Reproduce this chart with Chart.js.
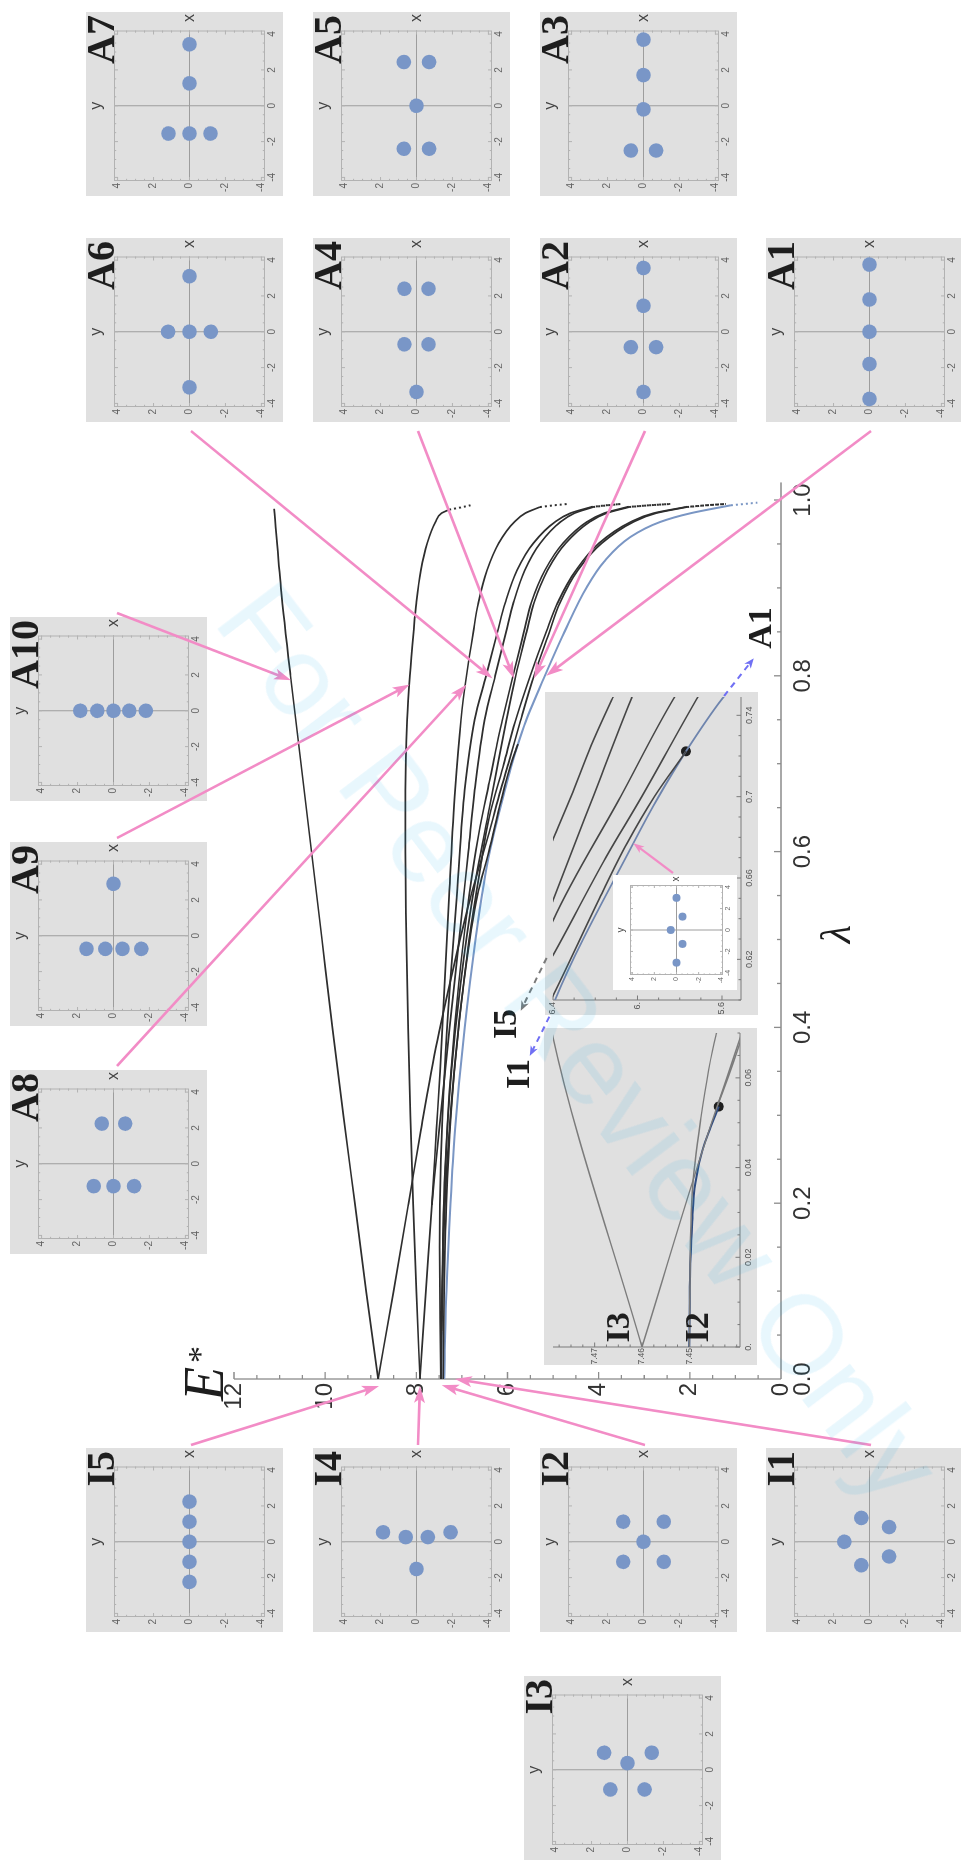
<!DOCTYPE html>
<html>
<head>
<meta charset="utf-8">
<title>Energy branches E* versus λ</title>
<script src="https://cdn.jsdelivr.net/npm/chart.js@4.4.1/dist/chart.umd.min.js"></script>
<style>
  html, body { margin: 0; padding: 0; background: #ffffff; }
  body { width: 961px; height: 1861px; position: relative; overflow: hidden; }
  /* the figure is laid out landscape and turned a quarter turn to portrait */
  #figure { position: absolute; left: 0; top: 0; width: 1861px; height: 961px;
            transform-origin: 0 0; transform: translate(0, 1861px) rotate(-90deg); }
  #figure canvas { position: absolute; }
  #stamp { position: absolute; left: 580px; top: 1042px; white-space: nowrap;
           font: 114px "Liberation Sans", Arial, sans-serif; color: rgba(0, 170, 235, 0.09);
           transform: translate(-50%, -50%) rotate(52.8deg); pointer-events: none; z-index: 50; }
</style>
</head>
<body>
<div id="figure"></div>
<div id="stamp">For Peer Review Only</div>
<script>
const SANS = '"Liberation Sans", Arial, sans-serif';
const SERIF = '"Liberation Serif", "Times New Roman", serif';

// ---------- tick labels ----------
const lambdaTicks = ['0.0', '0.2', '0.4', '0.6', '0.8', '1.0'];
const energyTicks = ['0', '2', '4', '6', '8', '10', '12'];
const upperLamTicks = ['0.62', '0.66', '0.7', '0.74'];
const upperEnTicks = ['5.6', '6.', '6.4'];
const lowerLamTicks = ['0.', '0.02', '0.04', '0.06'];
const lowerEnTicks = ['7.45', '7.46', '7.47'];
const panelTicks = ['-4', '-2', '0', '2', '4'];

// ---------- branches E*(λ) ----------
const lamA10 = [0, 0.1, 0.2, 0.3, 0.4, 0.5, 0.6, 0.7, 0.8, 0.9, 0.99];
const enA10  = [8.84, 9.1, 9.35, 9.6, 9.84, 10.07, 10.3, 10.53, 10.76, 10.97, 11.12];

const lamA9 = [0, 0.1, 0.2, 0.3, 0.4, 0.5, 0.6, 0.67, 0.75, 0.8, 0.85, 0.883, 0.92, 0.951, 0.975, 0.985, 0.989];
const enA9  = [7.92, 8.0, 8.07, 8.13, 8.18, 8.22, 8.24, 8.24, 8.2, 8.14, 8.06, 8.0, 7.9, 7.76, 7.58, 7.45, 7.28];
const lamA9tail = [0.989, 0.9915, 0.994];
const enA9tail  = [7.28, 7.03, 6.81];

const lamA8 = [0, 0.1, 0.198, 0.283, 0.35, 0.45, 0.55, 0.67, 0.75, 0.8, 0.85, 0.883, 0.92, 0.951, 0.975, 0.985, 0.992];
const enA8  = [7.92, 7.79, 7.66, 7.56, 7.48, 7.38, 7.28, 7.15, 7.02, 6.9, 6.75, 6.64, 6.45, 6.19, 5.85, 5.61, 5.29];
const lamA8tail = [0.992, 0.994, 0.9955];
const enA8tail  = [5.29, 4.98, 4.68];

const lamA7 = [0, 0.07, 0.15, 0.25, 0.35, 0.45, 0.55, 0.67, 0.75, 0.8, 0.85, 0.883, 0.92, 0.951, 0.975, 0.985, 0.992];
const enA7  = [7.46, 7.479, 7.49, 7.46, 7.38, 7.26, 7.11, 6.94, 6.72, 6.47, 6.22, 6.05, 5.79, 5.43, 4.96, 4.62, 4.17];
const lamA7tail = [0.992, 0.994, 0.9955];
const enA7tail  = [4.17, 3.84, 3.51];

const lamA6 = [0.198, 0.283, 0.4, 0.5, 0.6, 0.67, 0.75, 0.8, 0.85, 0.883, 0.92, 0.951, 0.975, 0.985, 0.992];
const enA6  = [7.66, 7.5, 7.27, 7.06, 6.86, 6.72, 6.5, 6.27, 6.03, 5.87, 5.62, 5.28, 4.84, 4.53, 4.12];
const lamA6tail = [0.992, 0.994, 0.9955];
const enA6tail  = [4.12, 3.8, 3.51];

const lamA5 = [0, 0.054, 0.15, 0.25, 0.35, 0.45, 0.55, 0.62, 0.679, 0.7, 0.725, 0.748, 0.8, 0.85, 0.883, 0.92, 0.951, 0.975, 0.985, 0.992];
const enA5  = [7.46, 7.444, 7.41, 7.35, 7.24, 7.07, 6.84, 6.63, 6.4, 6.315, 6.22, 6.12, 5.88, 5.64, 5.48, 5.18, 4.78, 4.26, 3.88, 3.38];
const lamA5tail = [0.992, 0.994, 0.9955];
const enA5tail  = [3.38, 2.9, 2.43];

const lamA4 = [0, 0.0345, 0.05, 0.0694, 0.15, 0.25, 0.35, 0.45, 0.55, 0.649, 0.7, 0.748, 0.8, 0.85, 0.883, 0.92, 0.951, 0.975, 0.985, 0.992];
const enA4  = [7.45, 7.4494, 7.4477, 7.4444, 7.42, 7.36, 7.23, 7.03, 6.76, 6.4, 6.21, 6.03, 5.82, 5.58, 5.42, 5.12, 4.72, 4.2, 3.83, 3.33];
const lamA4tail = [0.992, 0.994, 0.9955];
const enA4tail  = [3.33, 2.88, 2.43];

const lamA3 = [0, 0.1, 0.2, 0.3, 0.4, 0.5, 0.58, 0.639, 0.7, 0.748, 0.8, 0.85, 0.883, 0.92, 0.951, 0.975, 0.985, 0.992];
const enA3  = [7.41, 7.39, 7.34, 7.24, 7.07, 6.84, 6.6, 6.4, 6.08, 5.83, 5.5, 5.15, 4.9, 4.5, 3.99, 3.3, 2.8, 2.1];
const lamA3tail = [0.992, 0.994, 0.9955];
const enA3tail  = [2.1, 1.65, 1.21];

const lamA2 = [0, 0.1, 0.2, 0.283, 0.385, 0.485, 0.55, 0.622, 0.67, 0.7, 0.748, 0.8, 0.85, 0.883, 0.92, 0.951, 0.975, 0.985, 0.992];
const enA2  = [8.84, 8.5, 8.17, 7.9, 7.54, 7.11, 6.8, 6.4, 6.15, 5.98, 5.72, 5.42, 5.08, 4.85, 4.46, 3.93, 3.24, 2.74, 2.06];
const lamA2tail = [0.992, 0.994, 0.9955];
const enA2tail  = [2.06, 1.63, 1.21];

// branch that leaves the I2/I3 crossing and merges into A1
const lamMerge = [0.054, 0.15, 0.25, 0.35, 0.45, 0.55, 0.6, 0.65, 0.677, 0.7, 0.7223];
const enMerge  = [7.444, 7.408, 7.32, 7.17, 6.96, 6.66, 6.41, 6.18, 6.05, 5.92, 5.77];

const lamA1 = [0, 0.1, 0.2, 0.283, 0.4, 0.5, 0.6, 0.677, 0.7, 0.7223, 0.748, 0.8, 0.85, 0.901, 0.93, 0.958, 0.975, 0.985, 0.994];
const enA1  = [7.39, 7.34, 7.25, 7.15, 6.94, 6.7, 6.39, 6.02, 5.9, 5.77, 5.6, 5.18, 4.75, 4.26, 3.88, 3.3, 2.65, 1.98, 1.1];
const lamA1tail = [0.994, 0.9955, 0.997];
const enA1tail  = [1.1, 0.8, 0.52];

// short I2 branch ending on the I3 line
const lamI2 = [0, 0.0134, 0.0207, 0.028, 0.0367, 0.044, 0.049, 0.0536];
const enI2  = [7.45, 7.4499, 7.4497, 7.4494, 7.4487, 7.4472, 7.4455, 7.4438];

// bifurcation points
const upperDotLam = [0.7223], upperDotEn = [5.77];
const lowerDotLam = [0.0536], lowerDotEn = [7.4438];

// guide arrows in the upper zoom (λ, E)
const guideLamA1 = [0.7495, 0.768], guideEnA1 = [5.59, 5.45];
const guideLamI5 = [0.6207, 0.5947], guideEnI5 = [6.43, 6.553];
const guideLamI1 = [0.5918, 0.5725], guideEnI1 = [6.417, 6.51];

// configurations (x, y) of each state
const dotsA1X = [3.75, 1.8, 0, -1.8, -3.75],     dotsA1Y = [0, 0, 0, 0, 0];
const dotsA2X = [3.56, 1.45, -0.86, -0.86, -3.36], dotsA2Y = [0, 0, 0.7, -0.7, 0];
const dotsA3X = [3.69, 1.71, -0.2, -2.5, -2.5],  dotsA3Y = [0, 0, 0, 0.7, -0.7];
const dotsA4X = [2.4, 2.4, -0.7, -0.7, -3.36],   dotsA4Y = [0.67, -0.67, 0.67, -0.67, 0];
const dotsA5X = [2.44, 2.44, 0, -2.4, -2.4],     dotsA5Y = [0.7, -0.7, 0, 0.7, -0.7];
const dotsA6X = [3.1, 0, 0, 0, -3.1],            dotsA6Y = [0, 1.19, 0, -1.19, 0];
const dotsA7X = [3.43, 1.25, -1.55, -1.55, -1.55], dotsA7Y = [0, 0, 1.17, 0, -1.17];
const dotsA8X = [2.24, 2.24, -1.25, -1.25, -1.25], dotsA8Y = [0.65, -0.65, 1.1, 0, -1.15];
const dotsA9X = [2.9, -0.73, -0.73, -0.73, -0.73], dotsA9Y = [0, 1.5, 0.45, -0.5, -1.55];
const dotsA10X = [0, 0, 0, 0, 0],                dotsA10Y = [1.85, 0.9, 0, -0.88, -1.8];
const dotsI1X = [1.33, 0.82, 0, -0.82, -1.31],   dotsI1Y = [0.45, -1.09, 1.4, -1.09, 0.45];
const dotsI2X = [1.12, 1.12, 0, -1.12, -1.12],   dotsI2Y = [1.13, -1.13, 0, 1.13, -1.13];
const dotsI3X = [0.95, 0.95, 0.37, -1.1, -1.1],  dotsI3Y = [1.3, -1.35, 0, 0.95, -0.95];
const dotsI4X = [0.53, 0.26, 0.26, 0.53, -1.52], dotsI4Y = [1.86, 0.6, -0.63, -1.9, 0];
const dotsI5X = [2.24, 1.12, 0, -1.12, -2.24],   dotsI5Y = [0, 0, 0, 0, 0];
const dotsZoomX = [3.0, 1.25, 0, -1.3, -3.05],   dotsZoomY = [0, -0.55, 0.52, -0.55, 0];

// where the pink pointers land on the branches (λ, E)
const pointerNames = ['A10', 'A9', 'A8', 'A6', 'A4', 'A2', 'A1', 'I5', 'I4', 'I2', 'I1'];
const pointerLam = [0.795, 0.79, 0.79, 0.797, 0.797, 0.797, 0.80, -0.008, -0.008, -0.007, 0.0];
const pointerEn  = [10.75, 8.15, 6.9, 6.33, 5.86, 5.42, 5.15, 8.82, 7.92, 7.44, 7.15];

// ---------- helpers ----------
const fig = document.getElementById('figure');
const ink = '#2e2e2e', blueInk = '#7a96c4', pink = '#f28cc6', dotColor = 'rgb(121,150,199)';

function addCanvas(left, top, w, h, z) {
  const c = document.createElement('canvas');
  c.width = w; c.height = h;
  Object.assign(c.style, { left: left + 'px', top: top + 'px', width: w + 'px', height: h + 'px', zIndex: z });
  fig.appendChild(c);
  return c;
}
function pts(lam, en) { return lam.map((l, i) => ({ x: l, y: en[i] })); }
function line(lam, en, color, width, extra) {
  return Object.assign({ data: pts(lam, en), showLine: true, pointRadius: 0, borderColor: color,
    borderWidth: width, cubicInterpolationMode: 'monotone', fill: false }, extra || {});
}
function dotted(lam, en, color) {
  return line(lam, en, color, 2, { cubicInterpolationMode: 'default', tension: 0, borderDash: [2, 3] });
}
function marker(lam, en, r) {
  return { data: pts(lam, en), showLine: false, pointRadius: r, pointBackgroundColor: '#1f1f1f', pointBorderWidth: 0 };
}
function fixedTicks(labels) { return s => { s.ticks = labels.map(t => ({ value: Number(t) })); }; }
function axis(min, max, labels, fit, size, pad, color) {
  return {
    type: 'linear', min, max,
    afterBuildTicks: fixedTicks(labels),
    afterFit: fit,
    ticks: { autoSkip: false, maxRotation: 0, padding: pad, color: color || '#555',
             font: { family: SANS, size }, callback: (v, i) => labels[i] },
    grid: { display: false, drawTicks: false }, border: { display: false }
  };
}
function base(extra) {
  return Object.assign({ responsive: false, animation: false, devicePixelRatio: 1, events: [] }, extra);
}

// ---------- plugins ----------
const mainAxes = {
  id: 'mainAxes',
  beforeDatasetsDraw(chart) {
    const { ctx, scales: { x, y } } = chart;
    const ox = x.getPixelForValue(0), oy = y.getPixelForValue(0);
    ctx.save();
    ctx.strokeStyle = '#8c8c8c'; ctx.lineWidth = 1.3;
    ctx.beginPath();
    ctx.moveTo(ox, oy); ctx.lineTo(ox, y.getPixelForValue(12));
    ctx.moveTo(ox, oy); ctx.lineTo(x.getPixelForValue(1.02), oy);
    for (let k = 0; k <= 24; k++) {
      const py = y.getPixelForValue(k * 0.5), len = k % 4 === 0 ? 7 : 4;
      ctx.moveTo(ox, py); ctx.lineTo(ox + len, py);
    }
    for (let k = 0; k <= 20; k++) {
      const px = x.getPixelForValue(k * 0.05), len = k % 4 === 0 ? 7 : 4;
      ctx.moveTo(px, oy); ctx.lineTo(px, oy - len);
    }
    ctx.stroke(); ctx.restore();
  },
  afterDraw(chart) {
    const { ctx, scales: { x, y } } = chart;
    ctx.save(); ctx.fillStyle = '#1e1e1e';
    ctx.font = `italic 42px ${SERIF}`; ctx.textAlign = 'center'; ctx.textBaseline = 'middle';
    ctx.fillText('λ', x.getPixelForValue(0.506), y.getPixelForValue(0) + 58);
    ctx.textAlign = 'left'; ctx.textBaseline = 'alphabetic';
    const ex = x.getPixelForValue(0) - 22, ey = y.getPixelForValue(12) - 11;
    ctx.font = `italic 56px ${SERIF}`; ctx.fillText('E', ex, ey);
    ctx.font = `34px ${SERIF}`; ctx.fillText('*', ex + 38, ey - 12);
    ctx.restore();
  }
};

const insetFrame = {
  id: 'insetFrame',
  beforeDraw(chart, args, o) {
    const ctx = chart.ctx;
    ctx.save(); ctx.fillStyle = o.bg; ctx.fillRect(0, 0, chart.width, chart.height); ctx.restore();
  },
  beforeDatasetsDraw(chart, args, o) {
    const { ctx, chartArea: a, scales: { x, y } } = chart;
    const xm = o.xMajor.map(Number), ym = o.yMajor.map(Number);
    const isMajor = (list, v) => list.some(m => Math.abs(m - v) < 1e-7);
    ctx.save();
    ctx.strokeStyle = '#7a7a7a'; ctx.lineWidth = 1;
    ctx.beginPath();
    ctx.moveTo(a.left, a.top); ctx.lineTo(a.left, a.bottom); ctx.lineTo(a.right, a.bottom);
    for (let k = 0; k <= o.xCount; k++) {
      const v = o.xFrom + k * o.xStep, px = x.getPixelForValue(v);
      if (px < a.left - 0.5 || px > a.right + 0.5) continue;
      const len = isMajor(xm, v) ? 4.5 : 2.5;
      ctx.moveTo(px, a.bottom); ctx.lineTo(px, a.bottom - len);
    }
    for (let k = 0; k <= o.yCount; k++) {
      const v = o.yFrom + k * o.yStep, py = y.getPixelForValue(v);
      if (py < a.top - 0.5 || py > a.bottom + 0.5) continue;
      const len = isMajor(ym, v) ? 4.5 : 2.5;
      ctx.moveTo(a.left, py); ctx.lineTo(a.left + len, py);
    }
    ctx.stroke(); ctx.restore();
  },
  afterDraw(chart, args, o) {
    const { ctx, scales: { x, y } } = chart;
    if (!o.names) return;
    ctx.save(); ctx.fillStyle = '#1e1e1e'; ctx.font = `bold 34px ${SERIF}`;
    ctx.textAlign = 'center'; ctx.textBaseline = 'middle';
    for (let i = 0; i < o.names.length; i++) {
      ctx.fillText(o.names[i], x.getPixelForValue(o.nameLam[i]), y.getPixelForValue(o.nameEn[i]));
    }
    ctx.restore();
  }
};

const panelDecor = {
  id: 'panelDecor',
  beforeDraw(chart, args, o) {
    const ctx = chart.ctx;
    ctx.save(); ctx.fillStyle = o.bg; ctx.fillRect(0, 0, chart.width, chart.height); ctx.restore();
  },
  beforeDatasetsDraw(chart, args, o) {
    const { ctx, chartArea: a, scales: { x, y } } = chart;
    const x0 = x.getPixelForValue(0), y0 = y.getPixelForValue(0);
    ctx.save();
    ctx.lineWidth = 1;
    ctx.strokeStyle = '#9d9d9d';
    ctx.beginPath();
    ctx.moveTo(x0, a.top); ctx.lineTo(x0, a.bottom);
    ctx.moveTo(a.left, y0); ctx.lineTo(a.right, y0);
    ctx.stroke();
    ctx.strokeStyle = '#b2b2b2';
    ctx.strokeRect(a.left + 0.5, a.top + 0.5, a.right - a.left - 1, a.bottom - a.top - 1);
    ctx.beginPath();
    for (let k = -8; k <= 8; k++) {
      const v = k / 2, len = k % 4 === 0 ? o.major : o.minor;
      const px = x.getPixelForValue(v), py = y.getPixelForValue(v);
      ctx.moveTo(px, a.bottom); ctx.lineTo(px, a.bottom - len);
      ctx.moveTo(px, a.top); ctx.lineTo(px, a.top + len);
      ctx.moveTo(a.left, py); ctx.lineTo(a.left + len, py);
      ctx.moveTo(a.right, py); ctx.lineTo(a.right - len, py);
    }
    ctx.stroke(); ctx.restore();
  },
  afterDraw(chart, args, o) {
    const { ctx, scales: { x, y } } = chart;
    ctx.save();
    ctx.fillStyle = '#444'; ctx.font = `${o.labelSize}px ${SANS}`;
    ctx.textAlign = 'center'; ctx.textBaseline = 'middle';
    ctx.fillText('y', x.getPixelForValue(0), o.yLabelY);
    ctx.fillText('x', o.xLabelX, y.getPixelForValue(0));
    if (o.name) {
      ctx.fillStyle = '#1e1e1e'; ctx.font = `bold ${o.nameSize}px ${SERIF}`;
      ctx.textAlign = 'right'; ctx.textBaseline = 'alphabetic';
      ctx.fillText(o.name, o.nameX, o.nameY);
    }
    ctx.restore();
  }
};

// ---------- main chart ----------
const MAIN = { left: 380, top: 170, w: 1010, h: 680 };
const mainChart = new Chart(addCanvas(MAIN.left, MAIN.top, MAIN.w, MAIN.h, 1), {
  type: 'scatter',
  data: {
    datasets: [
      line(lamA10, enA10, ink, 1.7),
      line(lamA9, enA9, ink, 1.7), dotted(lamA9tail, enA9tail, ink),
      line(lamA8, enA8, ink, 1.7), dotted(lamA8tail, enA8tail, ink),
      line(lamA7, enA7, ink, 1.7), dotted(lamA7tail, enA7tail, ink),
      line(lamA6, enA6, ink, 1.7), dotted(lamA6tail, enA6tail, ink),
      line(lamA5, enA5, ink, 1.7), dotted(lamA5tail, enA5tail, ink),
      line(lamA4, enA4, ink, 1.7), dotted(lamA4tail, enA4tail, ink),
      line(lamA3, enA3, ink, 1.7), dotted(lamA3tail, enA3tail, ink),
      line(lamA2, enA2, ink, 1.7), dotted(lamA2tail, enA2tail, ink),
      line(lamMerge, enMerge, ink, 1.7),
      line(lamI2, enI2, blueInk, 2),
      line(lamA1, enA1, blueInk, 2), dotted(lamA1tail, enA1tail, blueInk)
    ]
  },
  options: base({
    layout: { padding: { left: 0, top: 64, right: 29, bottom: 0 } },
    plugins: { legend: { display: false }, tooltip: { enabled: false } },
    scales: {
      x: axis(0, 1, lambdaTicks, s => { s.height = 69; }, 24, 8, '#333'),
      y: axis(0, 12, energyTicks, s => { s.width = 102; }, 24, 4, '#333')
    }
  }),
  plugins: [mainAxes]
});

// ---------- zoom near λ ≈ 0.6–0.75 ----------
const UP = { left: 846, top: 545, w: 323, h: 213 };
const darkInk = '#464646';
const upperChart = new Chart(addCanvas(UP.left, UP.top, UP.w, UP.h, 3), {
  type: 'scatter',
  data: {
    datasets: [
      line(lamA5, enA5, darkInk, 1.6), line(lamA4, enA4, darkInk, 1.6),
      line(lamA3, enA3, darkInk, 1.6), line(lamA2, enA2, darkInk, 1.6),
      line(lamMerge, enMerge, darkInk, 1.6),
      line(lamA1, enA1, '#6e84ad', 1.8),
      marker(upperDotLam, upperDotEn, 5)
    ]
  },
  options: base({
    layout: { padding: { left: 0, top: 8, right: 0, bottom: 0 } },
    plugins: { legend: { display: false }, tooltip: { enabled: false },
      insetFrame: { bg: '#e0e0e0', xMajor: upperLamTicks, yMajor: upperEnTicks,
        xFrom: 0.6, xStep: 0.01, xCount: 15, yFrom: 5.5, yStep: 0.1, yCount: 9 } },
    scales: {
      x: axis(0.6, 0.749, upperLamTicks, s => { s.height = 17; }, 9, 3),
      y: axis(5.51, 6.4, upperEnTicks, s => { s.width = 15; }, 9, 2)
    }
  }),
  plugins: [insetFrame]
});

// ---------- zoom near λ ≈ 0 ----------
const LOW = { left: 496, top: 544, w: 337, h: 213 };
const greyInk = '#7b7b7b';
const lowerChart = new Chart(addCanvas(LOW.left, LOW.top, LOW.w, LOW.h, 3), {
  type: 'scatter',
  data: {
    datasets: [
      line(lamA7, enA7, greyInk, 1.4), line(lamA5, enA5, greyInk, 1.4),
      line(lamA4, enA4, greyInk, 1.4), line(lamMerge, enMerge, greyInk, 1.4),
      line(lamI2, enI2, '#2f4b80', 2),
      marker(lowerDotLam, lowerDotEn, 5)
    ]
  },
  options: base({
    layout: { padding: { left: 0, top: 9, right: 1, bottom: 0 } },
    plugins: { legend: { display: false }, tooltip: { enabled: false },
      insetFrame: { bg: '#e0e0e0', xMajor: lowerLamTicks, yMajor: lowerEnTicks,
        xFrom: 0, xStep: 0.005, xCount: 14, yFrom: 7.44, yStep: 0.0025, yCount: 16,
        names: ['I3', 'I2'], nameLam: [0.0044, 0.0044], nameEn: [7.4647, 7.4479] } },
    scales: {
      x: axis(0, 0.07, lowerLamTicks, s => { s.height = 17; }, 9, 3),
      y: axis(7.4393, 7.4788, lowerEnTicks, s => { s.width = 18; }, 8.5, 1)
    }
  }),
  plugins: [insetFrame]
});

// ---------- configuration panels ----------
function scatterPanel(box, xs, ys, o) {
  return new Chart(addCanvas(box.left, box.top, box.w, box.h, o.z), {
    type: 'scatter',
    data: { datasets: [{ data: pts(xs, ys), pointRadius: o.r, pointBackgroundColor: dotColor,
                         pointBorderWidth: 0, pointBorderColor: 'rgba(0,0,0,0)' }] },
    options: base({
      layout: { padding: { left: 0, top: o.padTop, right: o.padRight, bottom: 0 } },
      plugins: { legend: { display: false }, tooltip: { enabled: false }, panelDecor: o.decor },
      scales: {
        x: axis(-4.2, 4.2, panelTicks, s => { s.height = o.xH; }, o.tick, 1, '#666'),
        y: axis(-4.2, 4.2, panelTicks, s => { s.width = o.yW; }, o.tick, 2, '#666')
      }
    }),
    plugins: [panelDecor]
  });
}

const panelLayout = [
  ['A7', 1665, 86], ['A5', 1665, 313], ['A3', 1665, 540],
  ['A6', 1439, 86], ['A4', 1439, 313], ['A2', 1439, 540], ['A1', 1439, 766],
  ['A10', 1060, 10], ['A9', 835, 10], ['A8', 607, 10],
  ['I5', 229, 86], ['I4', 229, 313], ['I2', 229, 540], ['I1', 229, 766],
  ['I3', 1, 524]
];
const panelDots = {
  A1: [dotsA1X, dotsA1Y], A2: [dotsA2X, dotsA2Y], A3: [dotsA3X, dotsA3Y], A4: [dotsA4X, dotsA4Y],
  A5: [dotsA5X, dotsA5Y], A6: [dotsA6X, dotsA6Y], A7: [dotsA7X, dotsA7Y], A8: [dotsA8X, dotsA8Y],
  A9: [dotsA9X, dotsA9Y], A10: [dotsA10X, dotsA10Y], I1: [dotsI1X, dotsI1Y], I2: [dotsI2X, dotsI2Y],
  I3: [dotsI3X, dotsI3Y], I4: [dotsI4X, dotsI4Y], I5: [dotsI5X, dotsI5Y]
};
const panelBoxes = {};
panelLayout.forEach(([name, left, top]) => {
  const box = { left, top, w: 184, h: 197 };
  panelBoxes[name] = box;
  scatterPanel(box, panelDots[name][0], panelDots[name][1], {
    z: 4, r: 7.3, padTop: 28, padRight: 18.5, xH: 18, yW: 15, tick: 10,
    decor: { bg: '#e0e0e0', major: 4, minor: 2.2, labelSize: 16, yLabelY: 11, xLabelX: 178,
             name, nameSize: 40, nameX: 181, nameY: 28 }
  });
});

// small configuration shown inside the upper zoom
const ZOOM = { left: 871, top: 613, w: 115, h: 124 };
scatterPanel(ZOOM, dotsZoomX, dotsZoomY, {
  z: 5, r: 4, padTop: 17, padRight: 10, xH: 14, yW: 15, tick: 7,
  decor: { bg: '#ffffff', major: 3, minor: 1.6, labelSize: 10, yLabelY: 8, xLabelX: 111, name: '' }
});

// ---------- pointers and labels ----------
const overlay = addCanvas(0, 0, 1861, 961, 10);
const octx = overlay.getContext('2d');

function drawArrow(x0, y0, x1, y1, s) {
  const ang = Math.atan2(y1 - y0, x1 - x0), c = Math.cos(ang), sn = Math.sin(ang);
  const bx = x1 - s.head * c, by = y1 - s.head * sn;
  octx.save();
  octx.strokeStyle = s.color; octx.fillStyle = s.color; octx.lineWidth = s.width;
  octx.setLineDash(s.dash || []);
  octx.beginPath(); octx.moveTo(x0, y0);
  octx.lineTo(x1 - s.head * 0.6 * c, y1 - s.head * 0.6 * sn); octx.stroke();
  octx.setLineDash([]);
  octx.beginPath();
  octx.moveTo(x1, y1);
  octx.lineTo(bx - sn * s.half, by + c * s.half);
  octx.lineTo(bx + s.notch * c, by + s.notch * sn);
  octx.lineTo(bx + sn * s.half, by - c * s.half);
  octx.closePath(); octx.fill();
  octx.restore();
}
function onChart(chart, box, lam, en) {
  return [box.left + chart.scales.x.getPixelForValue(lam), box.top + chart.scales.y.getPixelForValue(en)];
}

const pinkStyle = { color: pink, width: 2.6, head: 17, half: 5.5, notch: 4 };
pointerNames.forEach((name, i) => {
  const b = panelBoxes[name];
  let sx, sy;
  if (['A6', 'A4', 'A2', 'A1'].includes(name)) { sx = b.left - 9; sy = b.top + 105; }
  else if (['A10', 'A9', 'A8'].includes(name)) { sx = b.left + b.w + 4; sy = b.top + 107; }
  else { sx = b.left + b.w + 3; sy = b.top + 105; }
  const [tx, ty] = onChart(mainChart, MAIN, pointerLam[i], pointerEn[i]);
  drawArrow(sx, sy, tx, ty, pinkStyle);
});

// pointer from the small configuration to its point on A1
{
  const [tx, ty] = onChart(upperChart, UP, 0.6771, 6.02);
  drawArrow(ZOOM.left + 117, ZOOM.top + 60, tx, ty, { color: pink, width: 2.2, head: 11, half: 4, notch: 3 });
}

// dashed guides continuing branches out of the upper zoom
function guide(lams, ens, color) {
  const [x0, y0] = onChart(upperChart, UP, lams[0], ens[0]);
  const [x1, y1] = onChart(upperChart, UP, lams[1], ens[1]);
  drawArrow(x0, y0, x1, y1, { color, width: 2, head: 10, half: 4, notch: 3, dash: [6, 5] });
}
guide(guideLamA1, guideEnA1, '#7070f4');
guide(guideLamI5, guideEnI5, '#7a7a7a');
guide(guideLamI1, guideEnI1, '#7070f4');

octx.save();
octx.fillStyle = '#1e1e1e'; octx.font = `bold 34px ${SERIF}`;
octx.textAlign = 'center'; octx.textBaseline = 'middle';
octx.fillText('A1', 1233, 762);
octx.fillText('I5', 837, 507);
octx.fillText('I1', 787, 520);
octx.restore();
</script>
</body>
</html>
